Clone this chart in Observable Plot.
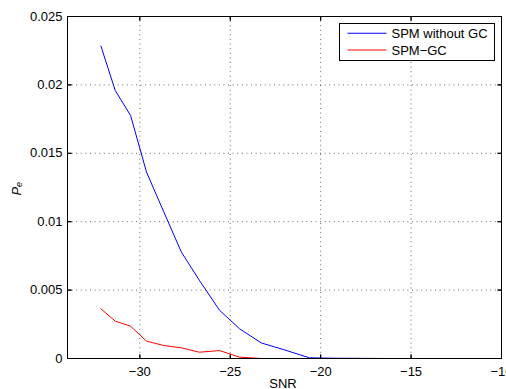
<!DOCTYPE html>
<html><head><meta charset="utf-8">
<script src="https://cdn.jsdelivr.net/npm/d3@7"></script>
<script src="https://cdn.jsdelivr.net/npm/@observablehq/plot@0.6"></script>
<style>body{margin:0;background:#fff} svg{display:block}</style>
</head><body><div id="chart"></div>
<script>
const snr = [-32.15, -31.36, -30.51, -29.63, -28.68, -27.70, -26.71, -25.59, -24.48, -23.29, -22.0, -20.62, -19.2, -17.7, -16.1, -14.3, -12.3, -10];
const peWithoutGC = [0.02283, 0.01959, 0.01776, 0.01362, 0.01073, 0.00777, 0.00572, 0.00352, 0.00217, 0.00114, 0.00063, 0.00005, 0.00002, 0.00001, 0, 0, 0, 0];
const peGC = [0.00363, 0.00273, 0.00236, 0.00127, 0.00095, 0.00078, 0.00046, 0.00058, 0.00010, 0, 0, 0, 0, 0, 0, 0, 0, 0];
const xTicks = [-30, -25, -20, -15, -10];
const yTicks = [0, 0.005, 0.01, 0.015, 0.02, 0.025];
const seriesNames = ["SPM without GC", "SPM\u2212GC"];
const seriesColors = ["#0000ff", "#ff0000"];
const xLabel = "SNR";
const yLabel = "P\u2091";
const xDomain = [-34, -10];
const yDomain = [0, 0.025];

const data = [
  ...snr.map((s, i) => ({snr: s, pe: peWithoutGC[i], series: seriesNames[0]})),
  ...snr.map((s, i) => ({snr: s, pe: peGC[i], series: seriesNames[1]}))
];
const fmtX = d => d < 0 ? "\u2212" + Math.abs(d) : String(d);
const gridStyle = {stroke: "#444", strokeOpacity: 0.8, strokeDasharray: "1,3.6", strokeWidth: 1};
const tickStyle = {length: 4, shape: "spike", r: 0, anchor: "start", stroke: "#000", strokeWidth: 1, fill: "none"};

const plot = Plot.plot({
  width: 506, height: 389,
  marginLeft: 67, marginRight: 5, marginTop: 16, marginBottom: 31,
  style: {fontFamily: "'Liberation Sans', Arial, sans-serif", fontSize: "13px", color: "#000", background: "#fff", overflow: "visible"},
  x: {domain: xDomain},
  y: {domain: yDomain},
  color: {domain: seriesNames, range: seriesColors},
  marks: [
    Plot.gridX(xTicks.filter(t => t > xDomain[0] && t < xDomain[1]), gridStyle),
    Plot.gridY(yTicks.filter(t => t > yDomain[0] && t < yDomain[1]), gridStyle),
    Plot.line(data, {x: "snr", y: "pe", z: "series", stroke: "series", strokeWidth: 1}),
    Plot.frame({stroke: "#000", strokeWidth: 1}),
    // inward ticks on all four sides
    Plot.vector(xTicks, {x: d => d, y: yDomain[0], rotate: 0, ...tickStyle}),
    Plot.vector(xTicks, {x: d => d, y: yDomain[1], rotate: 180, ...tickStyle}),
    Plot.vector(yTicks, {y: d => d, x: xDomain[0], rotate: 90, ...tickStyle}),
    Plot.vector(yTicks, {y: d => d, x: xDomain[1], rotate: 270, ...tickStyle}),
    Plot.axisX(xTicks, {anchor: "bottom", tickSize: 0, tickPadding: 8.5, tickFormat: fmtX, label: null, fontSize: 13}),
    Plot.axisY(yTicks, {anchor: "left", tickSize: 0, tickPadding: 5, tickFormat: d => String(d), label: null, fontSize: 13}),
    Plot.text([xLabel], {frameAnchor: "bottom", dy: 20.5, dx: -1.5, lineAnchor: "top", fontSize: 13}),
    Plot.text([yLabel], {frameAnchor: "left", dx: -50.5, dy: 8, rotate: -90, fontStyle: "italic", fontSize: 13})
  ]
});
document.getElementById("chart").append(plot);

// Legend (inside the axes, top-right, MATLAB style)
const ns = "http://www.w3.org/2000/svg";
const svg = plot.tagName.toLowerCase() === "svg" ? plot : plot.querySelector("svg");
const g = document.createElementNS(ns, "g");
g.setAttribute("font-family", "'Liberation Sans', Arial, sans-serif");
g.setAttribute("font-size", "13");
g.setAttribute("text-anchor", "start");
const box = document.createElementNS(ns, "rect");
box.setAttribute("x", 339.5); box.setAttribute("y", 23.5);
box.setAttribute("width", 155); box.setAttribute("height", 37);
box.setAttribute("fill", "#fff"); box.setAttribute("stroke", "#000");
g.append(box);
seriesNames.forEach((name, i) => {
  const y = 33.3 + i * 16.7;
  const ln = document.createElementNS(ns, "line");
  ln.setAttribute("x1", 347.5); ln.setAttribute("x2", 386.5);
  ln.setAttribute("y1", y); ln.setAttribute("y2", y);
  ln.setAttribute("stroke", seriesColors[i]); ln.setAttribute("stroke-width", 1.1);
  g.append(ln);
  const t = document.createElementNS(ns, "text");
  t.setAttribute("x", 391.5); t.setAttribute("y", y + 4.7);
  t.setAttribute("fill", "#000");
  t.setAttribute("text-anchor", "start");
  t.textContent = name;
  g.append(t);
});
svg.append(g);
</script>
</body></html>
